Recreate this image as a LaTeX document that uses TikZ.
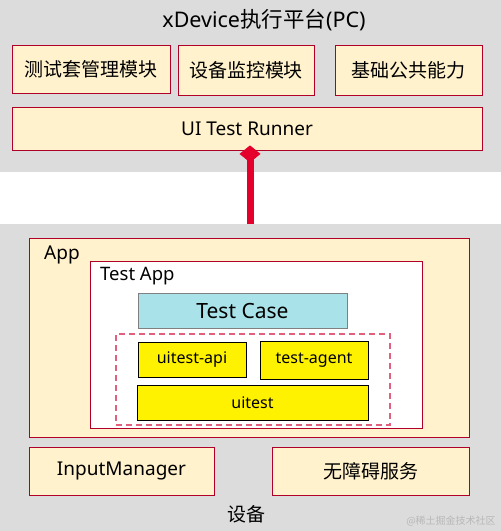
\documentclass[tikz,border=0pt]{standalone}
\usepackage{fontspec}
\setmainfont{Noto Sans}
\newfontfamily\cjk{Noto Sans CJK SC}
\usetikzlibrary{arrows.meta}
\definecolor{panelgray}{HTML}{DCDCDC}
\definecolor{beige}{HTML}{FFF2CC}
\definecolor{boxred}{HTML}{B0002A}
\definecolor{linkred}{HTML}{E4002B}
\definecolor{casecyan}{HTML}{A9E2E8}
\definecolor{dashpink}{HTML}{E0607E}
\definecolor{markgray}{HTML}{B8B8B8}
\begin{document}
\begin{tikzpicture}[x=1pt,y=-1pt,
  panel/.style={fill=panelgray, draw=none, inner sep=0pt},
  beigebox/.style={fill=beige, draw=boxred, line width=0.8pt, inner sep=0pt, font=\fontsize{19}{21}\selectfont},
  whitebox/.style={fill=white, draw=boxred, line width=0.8pt, inner sep=0pt},
  casebox/.style={fill=casecyan, draw=gray, line width=0.8pt, inner sep=0pt, font=\fontsize{21}{23}\selectfont},
  yellowbox/.style={fill=yellow, draw=black, line width=0.8pt, inner sep=0pt, font=\fontsize{16}{18}\selectfont},
  dashbox/.style={draw=dashpink, line width=1.6pt, dash pattern=on 6pt off 4pt, inner sep=0pt},
  label/.style={inner sep=0pt, font=\fontsize{18}{20}\selectfont},
  cjkbox/.style={font=\fontsize{19}{21}\selectfont\cjk}
]
\useasboundingbox (0,0) rectangle (501,531);
% panels
\node[panel, minimum width=501pt, minimum height=172pt] (pc) at (250.5,86) {};
\node[panel, minimum width=501pt, minimum height=307pt] (dev) at (250.5,377.5) {};
\node[label, font=\fontsize{21.5}{23}\selectfont] (pctitle) at (264,20) {xDevice{\cjk 执行平台}(PC)};
\node[label, cjkbox] (devtitle) at (246,514) {设备};
% PC modules
\node[beigebox, cjkbox, minimum width=158pt, minimum height=48pt] (b1) at (91,69) {测试套管理模块};
\node[beigebox, cjkbox, minimum width=136pt, minimum height=50pt] (b2) at (246,70) {设备监控模块};
\node[beigebox, cjkbox, minimum width=147pt, minimum height=50pt] (b3) at (408.5,70) {基础公共能力};
\node[beigebox, minimum width=470pt, minimum height=43pt] (runner) at (247,128.5) {UI Test Runner};
% device side
\node[beigebox, minimum width=440pt, minimum height=199pt] (app) at (249,337.5) {};
\node[label, anchor=west, font=\fontsize{19}{21}\selectfont] (applabel) at (44,255) {App};
\node[whitebox, minimum width=332pt, minimum height=167pt] (testapp) at (256,344.5) {};
\node[label, anchor=west, font=\fontsize{18.5}{20}\selectfont] (testapplabel) at (100,276) {Test App};
\node[casebox, minimum width=209pt, minimum height=35pt] (case) at (242.5,310.5) {Test Case};
\node[dashbox, minimum width=274pt, minimum height=91pt] (group) at (253,379.5) {};
\node[yellowbox, minimum width=108pt, minimum height=35pt] (api) at (192,359.5) {uitest-api};
\node[yellowbox, minimum width=108pt, minimum height=38pt] (agent) at (314,360) {test-agent};
\node[yellowbox, minimum width=231pt, minimum height=35pt] (uitest) at (252.5,402.5) {uitest};
\node[beigebox, minimum width=185pt, minimum height=48pt] (im) at (121.5,471) {InputManager};
\node[beigebox, cjkbox, minimum width=197pt, minimum height=48pt] (a11y) at (370.5,471) {无障碍服务};
\node[inner sep=0pt, text=markgray, font=\fontsize{10}{12}\selectfont\cjk] (mark) at (451,521) {@稀土掘金技术社区};
% link
\coordinate (linkfoot) at (250,224);
\draw[linkred, line width=7pt, -{Diamond[length=17pt,width=21pt,line width=0pt]}, shorten >=-5pt]
  (linkfoot) -- (linkfoot |- runner.south);
\end{tikzpicture}
\end{document}
